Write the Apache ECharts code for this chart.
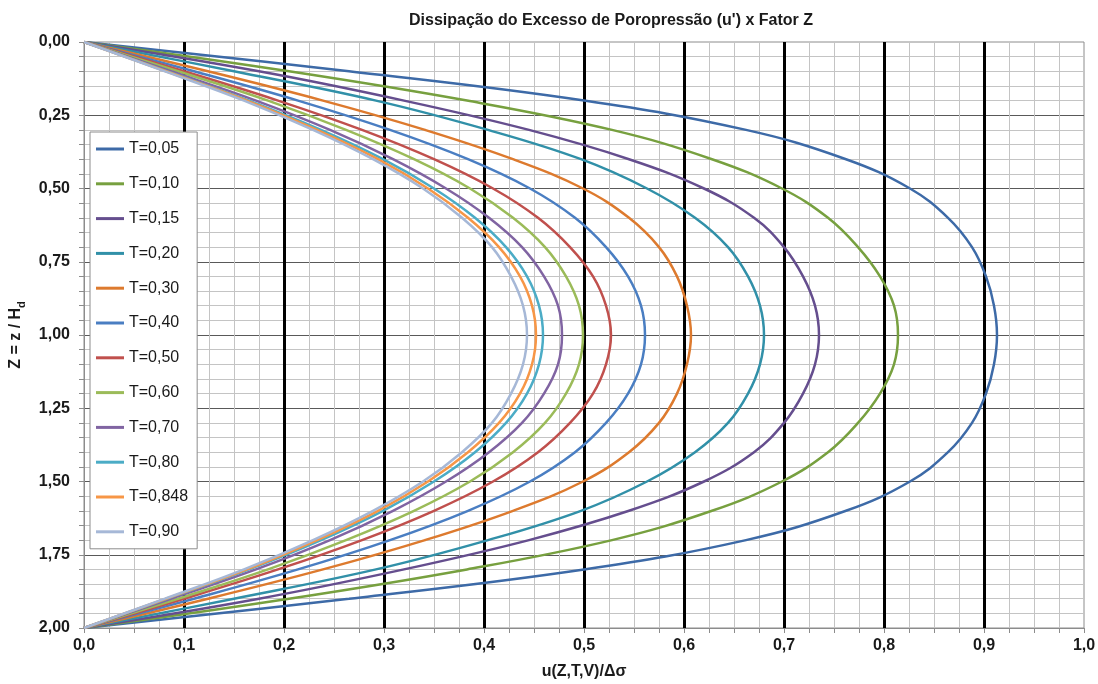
<!DOCTYPE html>
<html>
<head>
<meta charset="utf-8">
<title>Dissipação do Excesso de Poropressão</title>
<script src="https://cdn.jsdelivr.net/npm/echarts@6/dist/echarts.min.js"></script>
<style>
  html, body { margin: 0; padding: 0; background: #ffffff; }
  #chart { width: 1098px; height: 684px; }
</style>
</head>
<body>
<div id="chart"></div>
<script>
// Depth factor Z = z / Hd (0 = top drainage face, 2 = bottom drainage face)
const zLevels = [0.0, 0.1, 0.2, 0.3, 0.4, 0.5, 0.6, 0.7, 0.8, 0.9, 1.0,
                 1.1, 1.2, 1.3, 1.4, 1.5, 1.6, 1.7, 1.8, 1.9, 2.0];

// Normalised excess pore pressure u/Δσ for each time factor T
const uT005  = [0, 0.265, 0.500, 0.662, 0.762, 0.826, 0.864, 0.888, 0.902, 0.910, 0.913, 0.910, 0.902, 0.888, 0.864, 0.826, 0.762, 0.662, 0.500, 0.265, 0];
const uT010  = [0, 0.205, 0.383, 0.528, 0.628, 0.698, 0.744, 0.774, 0.796, 0.810, 0.814, 0.810, 0.796, 0.774, 0.744, 0.698, 0.628, 0.528, 0.383, 0.205, 0];
const uT015  = [0, 0.175, 0.320, 0.445, 0.545, 0.620, 0.670, 0.700, 0.719, 0.731, 0.735, 0.731, 0.719, 0.700, 0.670, 0.620, 0.545, 0.445, 0.320, 0.175, 0];
const uT020  = [0, 0.150, 0.292, 0.404, 0.497, 0.563, 0.611, 0.644, 0.664, 0.676, 0.680, 0.676, 0.664, 0.644, 0.611, 0.563, 0.497, 0.404, 0.292, 0.150, 0];
const uT030  = [0, 0.124, 0.239, 0.341, 0.429, 0.499, 0.545, 0.575, 0.593, 0.603, 0.607, 0.603, 0.593, 0.575, 0.545, 0.499, 0.429, 0.341, 0.239, 0.124, 0];
const uT040  = [0, 0.110, 0.214, 0.306, 0.384, 0.446, 0.491, 0.522, 0.544, 0.557, 0.561, 0.557, 0.544, 0.522, 0.491, 0.446, 0.384, 0.306, 0.214, 0.110, 0];
const uT050  = [0, 0.100, 0.194, 0.278, 0.350, 0.409, 0.454, 0.486, 0.509, 0.522, 0.527, 0.522, 0.509, 0.486, 0.454, 0.409, 0.350, 0.278, 0.194, 0.100, 0];
const uT060  = [0, 0.094, 0.184, 0.262, 0.330, 0.386, 0.429, 0.461, 0.482, 0.495, 0.499, 0.495, 0.482, 0.461, 0.429, 0.386, 0.330, 0.262, 0.184, 0.094, 0];
const uT070  = [0, 0.087, 0.172, 0.246, 0.309, 0.362, 0.405, 0.438, 0.460, 0.474, 0.478, 0.474, 0.460, 0.438, 0.405, 0.362, 0.309, 0.246, 0.172, 0.087, 0];
const uT080  = [0, 0.083, 0.165, 0.237, 0.299, 0.350, 0.391, 0.422, 0.443, 0.455, 0.459, 0.455, 0.443, 0.422, 0.391, 0.350, 0.299, 0.237, 0.165, 0.083, 0];
const uT0848 = [0, 0.082, 0.163, 0.233, 0.294, 0.344, 0.384, 0.415, 0.436, 0.448, 0.452, 0.448, 0.436, 0.415, 0.384, 0.344, 0.294, 0.233, 0.163, 0.082, 0];
const uT090  = [0, 0.081, 0.160, 0.229, 0.289, 0.339, 0.378, 0.408, 0.427, 0.439, 0.443, 0.439, 0.427, 0.408, 0.378, 0.339, 0.289, 0.229, 0.160, 0.081, 0];

const seriesNames = ['T=0,05', 'T=0,10', 'T=0,15', 'T=0,20', 'T=0,30', 'T=0,40',
                     'T=0,50', 'T=0,60', 'T=0,70', 'T=0,80', 'T=0,848', 'T=0,90'];
const seriesValues = [uT005, uT010, uT015, uT020, uT030, uT040,
                      uT050, uT060, uT070, uT080, uT0848, uT090];
const seriesColors = ['#3d6aa7', '#77a03f', '#654e8e', '#3190a8', '#dd7a2e', '#4a7ec2',
                      '#c0504d', '#9bbb59', '#8064a2', '#4bacc6', '#f79646', '#a6b8d7'];

const titleText = "Dissipação do Excesso de Poropressão (u') x Fator Z";
const xAxisTitle = 'u(Z,T,V)/Δσ';
const yAxisTitle = 'Z = z / H{sub|d}';

const FONT = '"Liberation Sans", Arial, sans-serif';

const chart = echarts.init(document.getElementById('chart'), null, { renderer: 'canvas' });

const series = seriesNames.map((name, i) => ({
  name: name,
  type: 'line',
  data: zLevels.map((z, k) => [seriesValues[i][k], z]),
  smooth: 0.4,
  symbol: 'none',
  showSymbol: false,
  color: seriesColors[i],
  lineStyle: { width: 2.5, color: seriesColors[i] },
  emphasis: { disabled: true },
  z: 3
}));

chart.setOption({
  animation: false,
  backgroundColor: '#ffffff',
  graphic: [{
    type: 'text',
    x: 611, y: 21,
    style: {
      text: titleText,
      font: 'bold 16px ' + FONT,
      fill: '#1a1a1a',
      textAlign: 'center',
      textVerticalAlign: 'middle'
    }
  }],
  grid: {
    left: 84, top: 42, right: 14, bottom: 56,
    show: true,
    backgroundColor: '#ffffff',
    borderColor: '#8c8c8c',
    borderWidth: 1,
    containLabel: false,
    outerBoundsMode: 'none'
  },
  legend: {
    orient: 'vertical',
    left: 90, top: 132,
    padding: [9, 9, 9, 6],
    itemWidth: 28,
    itemHeight: 14,
    itemGap: 18.8,
    backgroundColor: '#ffffff',
    borderColor: '#8c8c8c',
    borderWidth: 1,
    icon: 'path://M0,5.5 L28,5.5 L28,8.5 L0,8.5 Z',
    textStyle: { fontFamily: FONT, fontSize: 16, color: '#1a1a1a', lineHeight: 16 },
    selectedMode: false,
    data: seriesNames.map((n, i) => ({ name: n, itemStyle: { color: seriesColors[i] } }))
  },
  xAxis: {
    type: 'value',
    min: 0, max: 1, interval: 0.1,
    name: xAxisTitle,
    nameLocation: 'middle',
    nameGap: 36,
    nameTextStyle: { fontFamily: FONT, fontSize: 16, fontWeight: 'bold', color: '#1a1a1a' },
    axisLine: { show: true, onZero: false, lineStyle: { color: '#8c8c8c', width: 1 } },
    axisTick: { show: true, length: 5, inside: false, lineStyle: { color: '#8c8c8c' } },
    minorTick: { show: true, splitNumber: 4, length: 5, lineStyle: { color: '#8c8c8c' } },
    axisLabel: {
      margin: 10,
      fontFamily: FONT, fontSize: 16, fontWeight: 'bold', color: '#1a1a1a',
      formatter: v => v.toFixed(1).replace('.', ',')
    },
    splitLine: { show: true, showMinLine: false, showMaxLine: false, lineStyle: { color: '#000000', width: 3 } },
    minorSplitLine: { show: true, lineStyle: { color: '#c4c4c4', width: 1 } }
  },
  yAxis: {
    type: 'value',
    min: 0, max: 2, interval: 0.25,
    inverse: true,
    name: yAxisTitle,
    nameLocation: 'middle',
    nameGap: 54,
    nameRotate: 90,
    nameTextStyle: {
      fontFamily: FONT, fontSize: 16, fontWeight: 'bold', color: '#1a1a1a',
      rich: {
        sub: { fontFamily: FONT, fontSize: 11, fontWeight: 'bold', color: '#1a1a1a', verticalAlign: 'bottom', lineHeight: 24 }
      }
    },
    axisLine: { show: true, onZero: false, lineStyle: { color: '#8c8c8c', width: 1 } },
    axisTick: { show: true, length: 5, inside: false, lineStyle: { color: '#8c8c8c' } },
    minorTick: { show: true, splitNumber: 5, length: 5, lineStyle: { color: '#8c8c8c' } },
    axisLabel: {
      margin: 14,
      fontFamily: FONT, fontSize: 16, fontWeight: 'bold', color: '#1a1a1a',
      formatter: v => v.toFixed(2).replace('.', ',')
    },
    splitLine: { show: true, showMinLine: false, showMaxLine: false, lineStyle: { color: '#595959', width: 1.2 } },
    minorSplitLine: { show: true, lineStyle: { color: '#c4c4c4', width: 1 } }
  },
  series: series
});
</script>
</body>
</html>
